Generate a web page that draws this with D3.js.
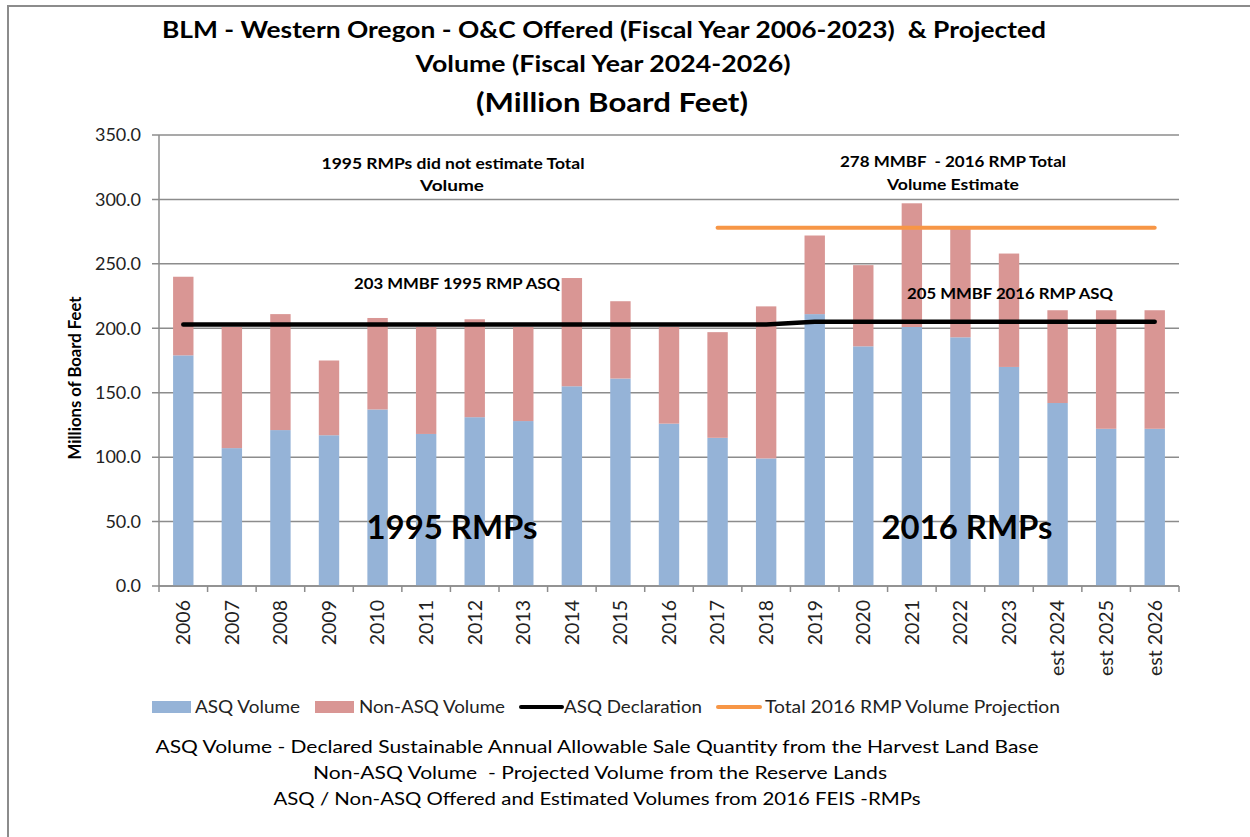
<!DOCTYPE html>
<html lang="en">
<head>
    <meta charset="UTF-8">
    <title>BLM Western Oregon O&amp;C Volume</title>
    <style>
        body { margin: 0; background: #fff; }
        svg { font-family: Lato, "Open Sans", sans-serif; }
        text { white-space: pre; }
    </style>
</head>
<body>
    <script src="https://d3js.org/d3.v7.min.js"></script>
    <div id="chart"></div>
    <script>
    // data (million board feet)
    var years = ["2006", "2007", "2008", "2009", "2010", "2011", "2012", "2013", "2014", "2015",
                 "2016", "2017", "2018", "2019", "2020", "2021", "2022", "2023",
                 "est 2024", "est 2025", "est 2026"];
    var asqVolume    = [179, 107, 121, 117, 137, 118, 131, 128, 155, 161, 126, 115, 99, 211, 186, 201, 193, 170, 142, 122, 122];
    var nonAsqVolume = [61, 94, 90, 58, 71, 83, 76, 73, 84, 60, 75, 82, 118, 61, 63, 96, 85, 88, 72, 92, 92];
    var asqDeclaration = [203, 203, 203, 203, 203, 203, 203, 203, 203, 203, 203, 203, 203,
                          205, 205, 205, 205, 205, 205, 205, 205];
    var totalProjection = [null, null, null, null, null, null, null, null, null, null, null,
                           278, 278, 278, 278, 278, 278, 278, 278, 278, 278];
    var yTicks = [0, 50, 100, 150, 200, 250, 300, 350];

    var width = 1250,
        height = 837,
        plotLeft = 159,
        plotRight = 1179,
        plotTop = 135,
        plotBottom = 586;

    var svg = d3.select("#chart")
        .append("svg")
        .attr("width", width)
        .attr("height", height);

    // outer frame (only top and left edges are visible)
    svg.append("path")
        .attr("d", "M8,837V6H1250")
        .attr("fill", "none")
        .attr("stroke", "#8c8c8c")
        .attr("stroke-width", 2);

    var x = d3.scaleBand()
        .domain(years)
        .range([plotLeft, plotRight])
        .paddingInner(0.58)
        .paddingOuter(0.29);

    var y = d3.scaleLinear()
        .domain([0, 350])
        .range([plotBottom, plotTop]);

    // gridlines (with the little tick to the left of the axis)
    svg.append("g")
        .selectAll("line")
        .data(yTicks)
        .enter().append("line")
        .attr("x1", plotLeft - 7)
        .attr("x2", plotRight)
        .attr("y1", function(d) { return y(d); })
        .attr("y2", function(d) { return y(d); })
        .attr("stroke", "#8c8c8c")
        .attr("stroke-width", 1.5);

    // y tick labels
    svg.append("g")
        .selectAll("text")
        .data(yTicks)
        .enter().append("text")
        .attr("x", 141)
        .attr("y", function(d) { return y(d); })
        .attr("dy", "0.35em")
        .attr("text-anchor", "end")
        .attr("font-size", 18)
        .attr("fill", "#222")
        .text(function(d) { return d3.format(".1f")(d); });

    svg.append("text")
        .attr("transform", "translate(75,378)rotate(-90)")
        .attr("dy", "0.35em")
        .attr("text-anchor", "middle")
        .attr("font-size", 16.5)
        .attr("font-weight", "bold")
        .attr("textLength", 163)
        .attr("lengthAdjust", "spacingAndGlyphs")
        .text("Millions of Board Feet");

    // stacked bars
    var rows = years.map(function(d, i) {
        return { year: d, asq: asqVolume[i], nonAsq: nonAsqVolume[i] };
    });
    var stack = d3.stack().keys(["asq", "nonAsq"])(rows);
    var colors = { asq: "#95b3d7", nonAsq: "#d99694" };

    svg.append("g")
        .selectAll("g")
        .data(stack)
        .enter().append("g")
        .attr("fill", function(s) { return colors[s.key]; })
        .selectAll("rect")
        .data(function(s) { return s; })
        .enter().append("rect")
        .attr("x", function(d) { return x(d.data.year); })
        .attr("width", x.bandwidth())
        .attr("y", function(d) { return y(d[1]); })
        .attr("height", function(d) { return y(d[0]) - y(d[1]); });

    // axis lines and x ticks
    svg.append("line")
        .attr("x1", plotLeft).attr("x2", plotLeft)
        .attr("y1", plotTop).attr("y2", plotBottom)
        .attr("stroke", "#8c8c8c").attr("stroke-width", 1.5);

    svg.append("line")
        .attr("x1", plotLeft).attr("x2", plotRight)
        .attr("y1", plotBottom).attr("y2", plotBottom)
        .attr("stroke", "#8c8c8c").attr("stroke-width", 1.5);

    var step = x.step();
    svg.append("g")
        .selectAll("line")
        .data(d3.range(years.length + 1))
        .enter().append("line")
        .attr("x1", function(i) { return plotLeft + i * step; })
        .attr("x2", function(i) { return plotLeft + i * step; })
        .attr("y1", plotBottom)
        .attr("y2", plotBottom + 6)
        .attr("stroke", "#8c8c8c")
        .attr("stroke-width", 1.5);

    svg.append("g")
        .selectAll("text")
        .data(years)
        .enter().append("text")
        .attr("transform", function(d) {
            return "translate(" + (x(d) + x.bandwidth() / 2) + "," + (plotBottom + 14) + ")rotate(-90)";
        })
        .attr("dy", "0.35em")
        .attr("text-anchor", "end")
        .attr("font-size", 19.5)
        .attr("fill", "#222")
        .text(function(d) { return d; });

    // lines
    var line = d3.line()
        .defined(function(d) { return d != null; })
        .x(function(d, i) { return x(years[i]) + x.bandwidth() / 2; })
        .y(function(d) { return y(d); });

    svg.append("path")
        .datum(totalProjection)
        .attr("fill", "none")
        .attr("stroke", "#f79646")
        .attr("stroke-width", 4)
        .attr("stroke-linecap", "round")
        .attr("d", line);

    svg.append("path")
        .datum(asqDeclaration)
        .attr("fill", "none")
        .attr("stroke", "#000")
        .attr("stroke-width", 4.5)
        .attr("stroke-linecap", "round")
        .attr("d", line);

    // centred text, stretched to the width it has in the picture
    function label(txt, cx, cy, size, len, weight) {
        var t = svg.append("text")
            .attr("x", cx)
            .attr("y", cy)
            .attr("dy", "0.35em")
            .attr("text-anchor", "middle")
            .attr("font-size", size)
            .attr("font-weight", weight || "bold")
            .text(txt);
        if (len) t.attr("textLength", len).attr("lengthAdjust", "spacingAndGlyphs");
        return t;
    }

    label("1995 RMPs did not estimate Total", 453, 164, 15.5, 263);
    label("Volume", 452, 186, 15.5, 64);
    label("278 MMBF  - 2016 RMP Total", 953, 162, 15.5, 226);
    label("Volume Estimate", 953, 185, 15.5, 132);
    label("203 MMBF 1995 RMP ASQ", 457, 284, 15.5, 206);
    label("205 MMBF 2016 RMP ASQ", 1010, 294, 15.5, 206);
    label("1995 RMPs", 452, 527, 33, 171);
    label("2016 RMPs", 967, 527, 33, 171);

    // title
    label("BLM - Western Oregon - O&C Offered (Fiscal Year 2006-2023)  & Projected", 604, 30, 22, 884);
    label("Volume (Fiscal Year 2024-2026)", 603, 64, 22, 375);
    label("(Million Board Feet)", 612, 103, 27, 272);

    // legend
    var legend = svg.append("g").attr("font-size", 18).attr("fill", "#222");
    function legendText(txt, x0, len) {
        legend.append("text").attr("x", x0).attr("y", 707).attr("dy", "0.35em")
            .attr("textLength", len).attr("lengthAdjust", "spacingAndGlyphs").text(txt);
    }
    legend.append("rect").attr("x", 152).attr("y", 701).attr("width", 39).attr("height", 12).attr("fill", colors.asq);
    legendText("ASQ Volume", 195, 105);
    legend.append("rect").attr("x", 315).attr("y", 701).attr("width", 39).attr("height", 12).attr("fill", colors.nonAsq);
    legendText("Non-ASQ Volume", 359, 146);
    legend.append("line").attr("x1", 521).attr("x2", 562).attr("y1", 707).attr("y2", 707)
        .attr("stroke", "#000").attr("stroke-width", 4).attr("stroke-linecap", "round");
    legendText("ASQ Declaration", 564, 138);
    legend.append("line").attr("x1", 718).attr("x2", 760).attr("y1", 707).attr("y2", 707)
        .attr("stroke", "#f79646").attr("stroke-width", 4).attr("stroke-linecap", "round");
    legendText("Total 2016 RMP Volume Projection", 765, 295);

    // footnotes
    label("ASQ Volume - Declared Sustainable Annual Allowable Sale Quantity from the Harvest Land Base", 597, 747, 17, 883, "normal");
    label("Non-ASQ Volume  - Projected Volume from the Reserve Lands", 600, 773, 17, 574, "normal");
    label("ASQ / Non-ASQ Offered and Estimated Volumes from 2016 FEIS -RMPs", 597, 799, 17, 647, "normal");
    </script>
</body>
</html>
